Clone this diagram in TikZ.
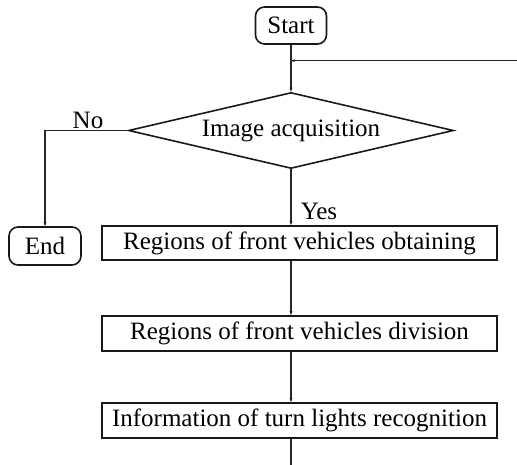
\documentclass[tikz,border=0pt]{standalone}
\usepackage{fontspec}
\setmainfont{Liberation Serif}
\usetikzlibrary{shapes.geometric,arrows.meta}
\begin{document}
\begin{tikzpicture}[x=1pt,y=-1pt,
  every node/.style={font=\fontsize{25}{28}\selectfont, text=black},
  line/.style={draw=black!85, line width=1.3pt},
  arr/.style={line, -{Stealth[length=4pt,width=3pt]}},
  term/.style={draw=black!90, line width=1.6pt, rounded corners=9pt, inner sep=0pt, minimum height=37pt},
  procbox/.style={draw=black!90, line width=1.7pt, inner sep=0pt, minimum width=395pt, minimum height=34pt},
  decision/.style={draw=black!90, line width=1.6pt, diamond, shape aspect=4.3, inner sep=0pt, minimum width=325pt, minimum height=76pt},
  lbl/.style={inner sep=0pt}]
\useasboundingbox (0,0) rectangle (517,465);

% blocks
\node[term, minimum width=71pt] (start) at (291,25.5) {Start};
\node[decision] (dec) at (291,130.5) {Image acquisition};
\node[term, minimum width=72pt, minimum height=38pt] (stop) at (45,246) {End};
\node[procbox] (b1) at (299.5,243) {Regions of front vehicles obtaining};
\node[procbox, minimum height=35pt] (b2) at (299.5,333.5) {Regions of front vehicles division};
\node[procbox, minimum height=35pt] (b3) at (299.5,420.5) {Information of turn lights recognition};

% free ends
\coordinate (loopin) at (517,60.7);
\coordinate (out) at (291,465);

% connectors
\draw[arr] (start.south) -- (dec.north);
\draw[arr] (loopin) -- (loopin -| start.south);
\draw[arr] (dec.west) -| (stop.north);
\draw[arr] (dec.south) -- (dec.south |- b1.north);
\draw[arr] (b1.south -| dec.south) -- (b2.north -| dec.south);
\draw[arr] (b2.south -| dec.south) -- (b3.north -| dec.south);
\draw[line] (b3.south -| dec.south) -- (out);

% branch labels
\node[lbl] (no) at (88,120) {No};
\node[lbl] (yes) at (319,211) {Yes};
\end{tikzpicture}
\end{document}
